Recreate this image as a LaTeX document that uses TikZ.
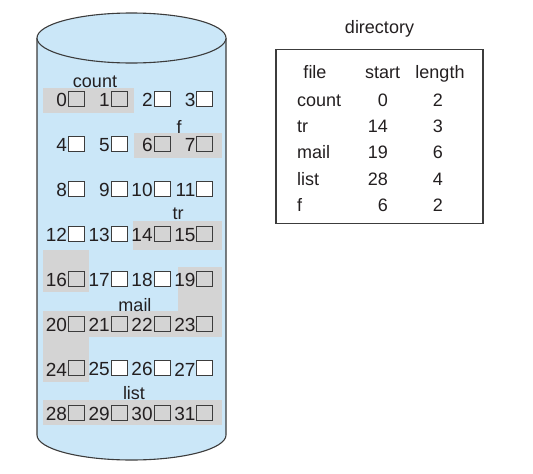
\documentclass[tikz,border=0pt]{standalone}
\usepackage{fontspec}
\setmainfont{Liberation Sans}
\usepackage{xcolor}
\definecolor{cDisk}{HTML}{CBE7F8}
\definecolor{cAlloc}{HTML}{D4D4D4}
\definecolor{cLine}{HTML}{3C3C3C}
\definecolor{cText}{HTML}{231F20}
\usepackage{tikz}
\usetikzlibrary{positioning}
\newcommand{\fsz}{\fontsize{18}{21}\selectfont}
\newcommand{\fnum}{\fontsize{19}{22}\selectfont}
\tikzset{
  blk/.style={draw=cLine,line width=1pt,minimum width=16pt,
    minimum height=15pt,inner sep=0pt},
  blk-free/.style={blk,fill=white},
  blk-used/.style={blk},
  blk-num/.style={font=\fnum,text=cText,inner sep=0.8pt,yshift=-1pt},
  file-lbl/.style={font=\fsz,text=cText,inner sep=0pt,anchor=base},
  alloc/.style={fill=cAlloc},
  disk-edge/.style={draw=cLine,line width=1.1pt},
  dir-frame/.style={draw=cLine,line width=1.3pt},
  dir-txt/.style={font=\fsz,text=cText,inner sep=0pt},
}

\begin{document}
\begin{tikzpicture}[x=1pt,y=-1pt]
  \useasboundingbox (0,0) rectangle (533,474);
  % disk
  \fill[cDisk] (37,38) -- (37,435)
    arc[start angle=180,end angle=0,x radius=94.5,y radius=25]
    -- (226,38) -- cycle;
  \draw[disk-edge] (37,38) -- (37,435)
    arc[start angle=180,end angle=0,x radius=94.5,y radius=25]
    -- (226,38);
  \draw[disk-edge,fill=cDisk] (131.5,38) ellipse[x radius=94.5,y radius=25];

  % allocated runs
  \fill[alloc] (43,88) rectangle (134,113);
  \fill[alloc] (134,133) rectangle (222,158);
  \fill[alloc] (133,221) rectangle (222,250);
  \fill[alloc] (43,250) rectangle (89,292);
  \fill[alloc] (178,267) rectangle (222,312);
  \fill[alloc] (43,311) rectangle (222,337);
  \fill[alloc] (43,336) rectangle (89,382);
  \fill[alloc] (43,400) rectangle (222,425);

  \foreach \i in {2,3,4,5,8,9,10,11,12,13,17,18,25,26,27}{
    \pgfmathsetmacro{\bx}{76.5+42.8*mod(\i,4)}
    \pgfmathsetmacro{\by}{99+44.9*int(\i/4)}
    \node[blk-free,label={[blk-num]left:\i}] (b\i) at (\bx,\by) {};
  }
  \foreach \i in {0,1,6,7,14,15,16,19,20,21,22,23,24,28,29,30,31}{
    \pgfmathsetmacro{\bx}{76.5+42.8*mod(\i,4)}
    \pgfmathsetmacro{\by}{99+44.9*int(\i/4)}
    \node[blk-used,label={[blk-num]left:\i}] (b\i) at (\bx,\by) {};
  }

  \node[file-lbl] (lbl-count) at (95,87) {count};
  \node[file-lbl] (lbl-f) at (179,133) {f};
  \node[file-lbl] (lbl-tr) at (178,219) {tr};
  \node[file-lbl] (lbl-mail) at (135,311) {mail};
  \node[file-lbl] (lbl-list) at (134,399) {list};

  % directory
  \node[dir-frame,minimum width=207pt,minimum height=174pt] (dir) at (379.5,136.3) {};
  \node[dir-txt,above=11pt of dir] (dir-title) {directory};
  \node[dir-txt,anchor=base] (h-file) at (315,78.5) {file};
  \node[dir-txt,anchor=base] (h-start) at (382.5,78.5) {start};
  \node[dir-txt,anchor=base] (h-length) at (440,78.5) {length};
  \foreach \name/\st/\len [count=\k] in {count/0/2,tr/14/3,mail/19/6,list/28/4,f/6/2}{
    \pgfmathsetmacro{\ry}{79.8+26.3*\k}
    \node[dir-txt,anchor=base west] (name-\k) at (297,\ry) {\name};
    \node[dir-txt,anchor=base east] (start-\k) at (388,\ry) {\st};
    \node[dir-txt,anchor=base] (len-\k) at (438,\ry) {\len};
  }
\end{tikzpicture}
\end{document}
